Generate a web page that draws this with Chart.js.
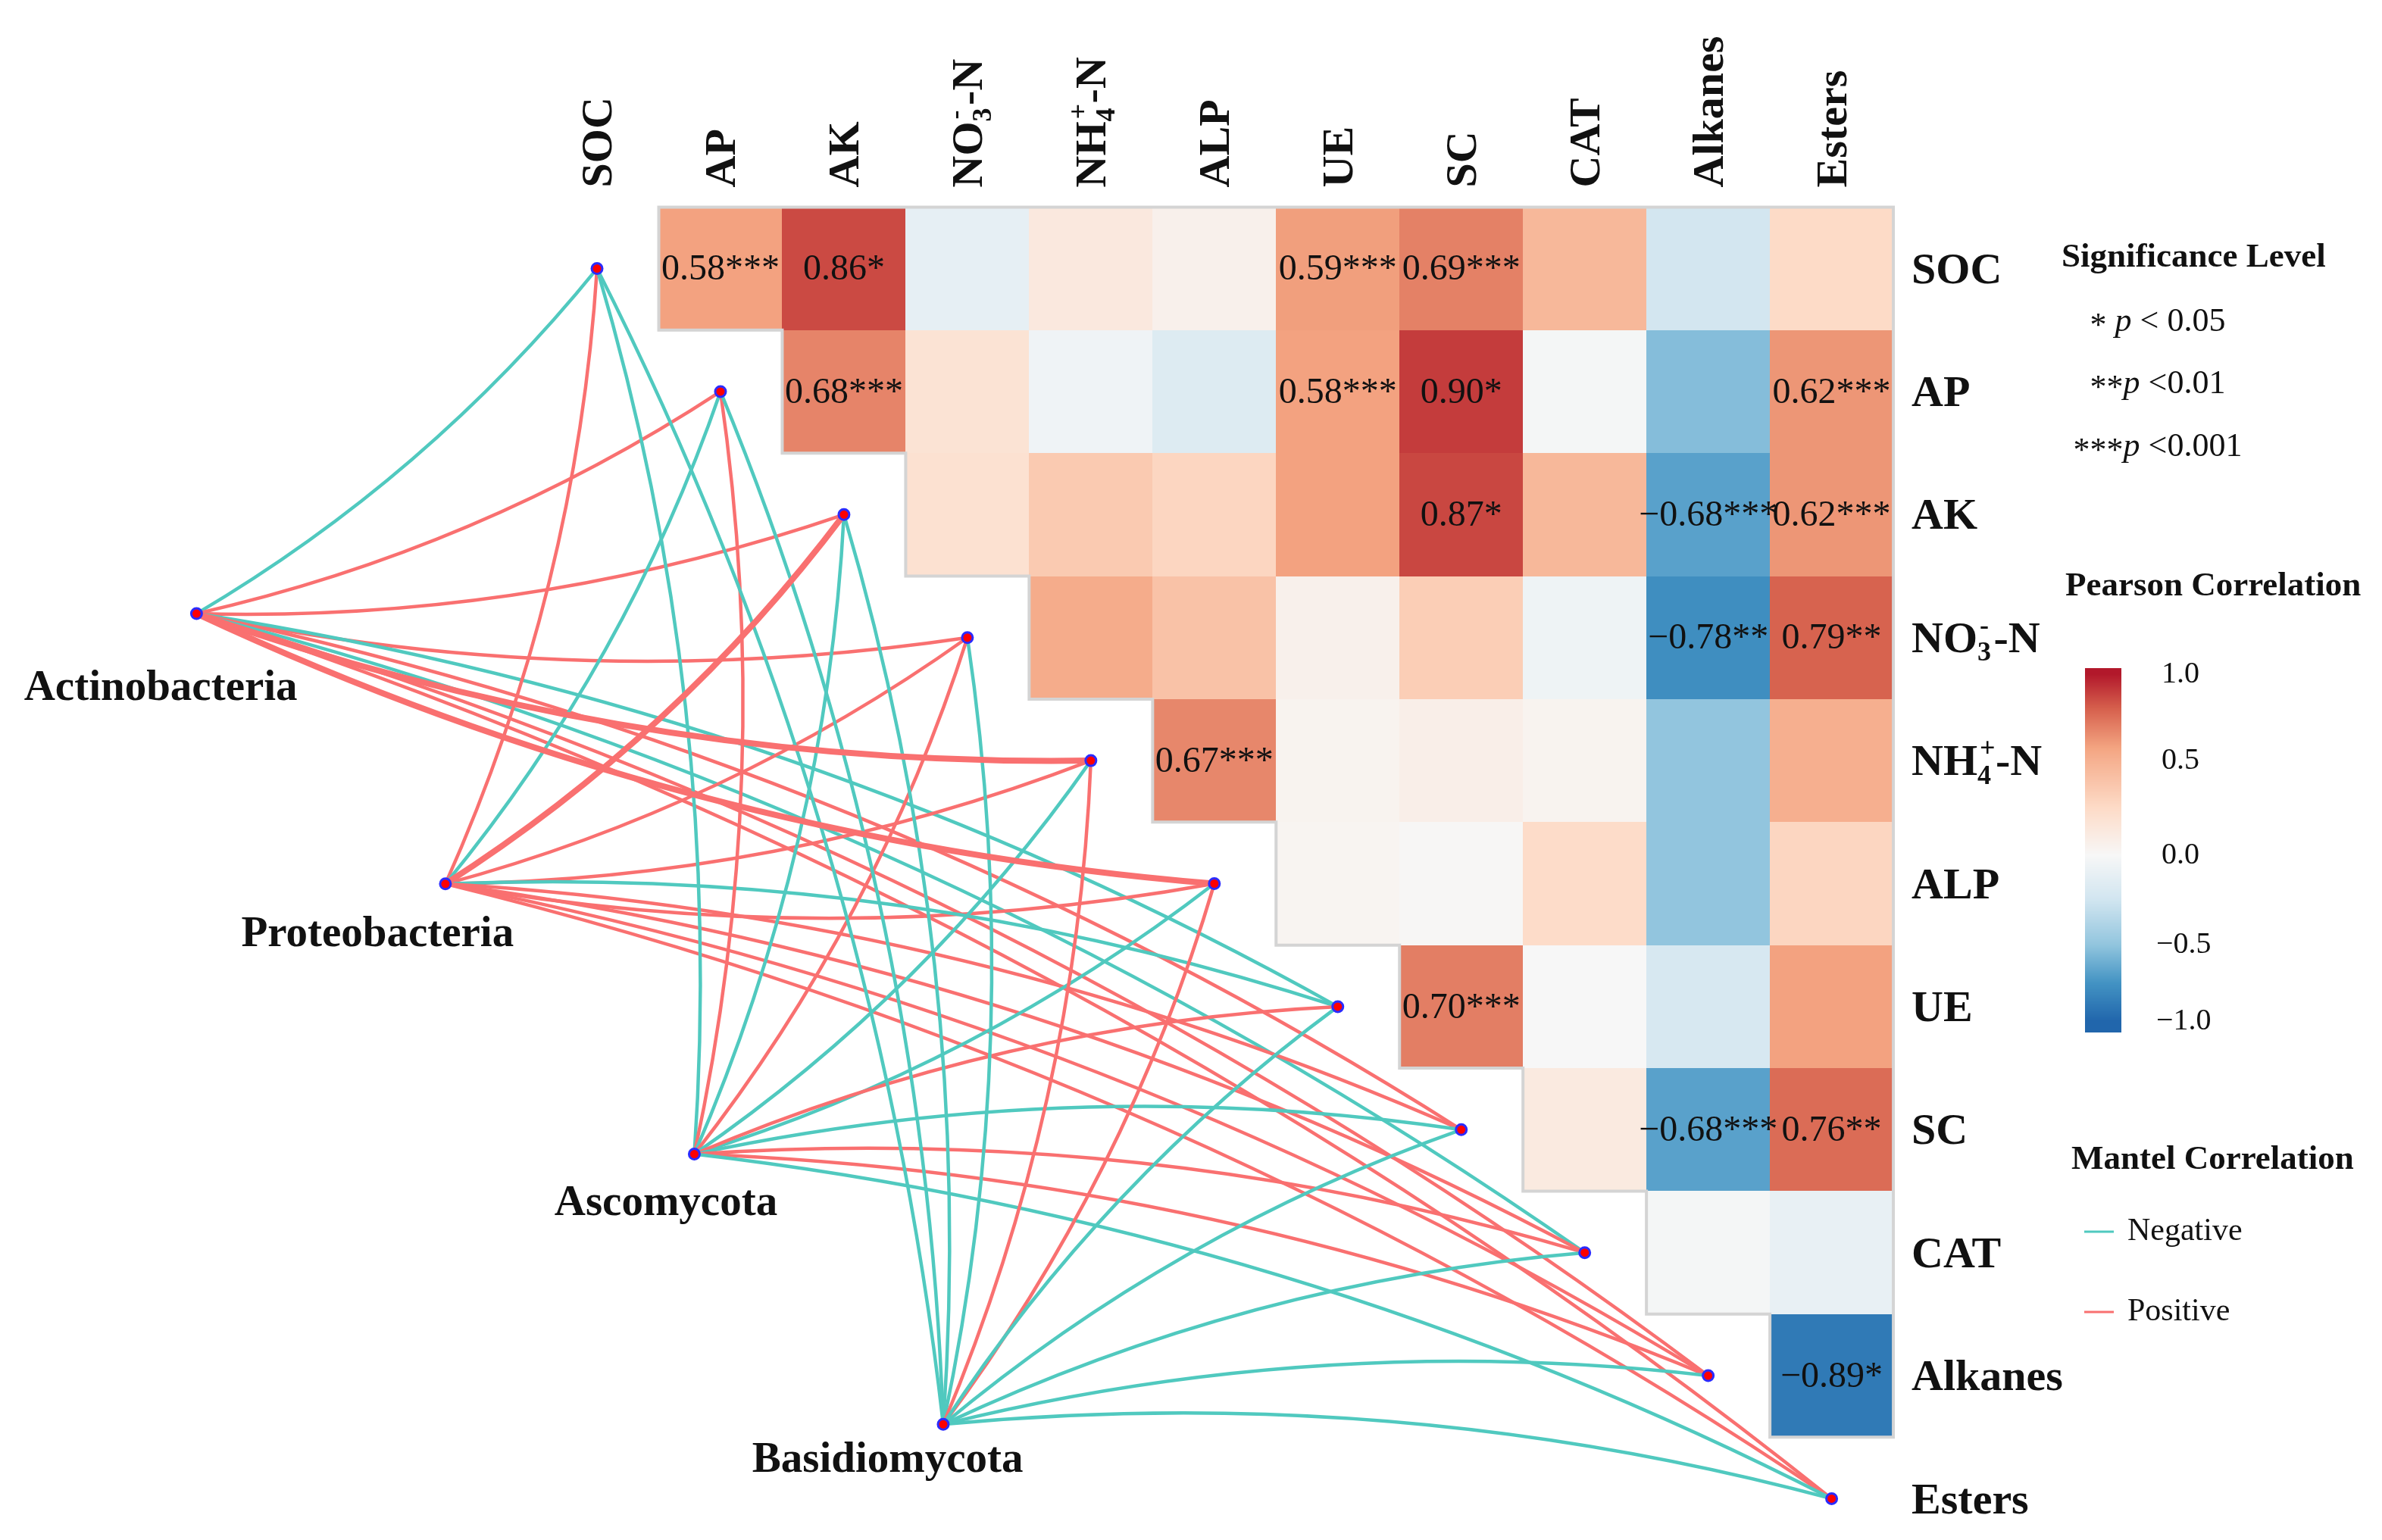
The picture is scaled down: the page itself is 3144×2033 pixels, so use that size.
<!DOCTYPE html>
<html><head><meta charset="utf-8">
<script src="https://cdn.jsdelivr.net/npm/chart.js@4.4.1/dist/chart.umd.min.js"></script>
<style>html,body{margin:0;padding:0;background:#fff;overflow:hidden}canvas{display:block}</style>
</head><body><canvas id="c" width="3144" height="2033"></canvas>
<script>
// ---------------- DATA ----------------
const variables = ['SOC','AP','AK','NO3-N','NH4-N','ALP','UE','SC','CAT','Alkanes','Esters'];
const taxa = ['Actinobacteria','Proteobacteria','Ascomycota','Basidiomycota'];

// Pearson r (upper triangle): each row lists the columns to the right of the diagonal
const r_SOC     = [0.58, 0.86, -0.11, 0.13, 0.06, 0.59, 0.69, 0.46, -0.24, 0.25];
const r_AP      = [0.68, 0.18, -0.05, -0.17, 0.58, 0.90, -0.02, -0.54, 0.62];
const r_AK      = [0.20, 0.35, 0.28, 0.58, 0.87, 0.46, -0.68, 0.62];
const r_NO3     = [0.53, 0.40, 0.06, 0.33, -0.06, -0.78, 0.79];
const r_NH4     = [0.67, 0.04, 0.08, 0.04, -0.50, 0.51];
const r_ALP     = [0.03, 0.01, 0.24, -0.50, 0.28];
const r_UE      = [0.70, 0.00, -0.21, 0.58];
const r_SC      = [0.12, -0.68, 0.76];
const r_CAT     = [-0.02, -0.10];
const r_Alkanes = [-0.89];

// significance stars (same layout)
const p_SOC     = ['***','*','','','','***','***','','',''];
const p_AP      = ['***','','','','***','*','','','***'];
const p_AK      = ['','','','','*','','***','***'];
const p_NO3     = ['','','','','','**','**'];
const p_NH4     = ['***','','','','',''];
const p_ALP     = ['','','','',''];
const p_UE      = ['***','','',''];
const p_SC      = ['','***','**'];
const p_CAT     = ['',''];
const p_Alkanes = ['*'];

// Mantel links: sign (+1 positive, -1 negative) to each variable
const mantel_Actinobacteria = [-1, 1, 1, 1, 1, 1,-1, 1,-1, 1, 1];
const mantel_Proteobacteria = [ 1,-1, 1, 1, 1, 1,-1, 1, 1, 1, 1];
const mantel_Ascomycota     = [-1, 1,-1, 1,-1,-1, 1,-1, 1, 1,-1];
const mantel_Basidiomycota  = [-1,-1,-1,-1, 1, 1,-1,-1,-1,-1,-1];
// Mantel link strength class (1 = normal, 2 = strong)
const size_Actinobacteria = [1,1,1,1,2,2,1,1,1,1,1];
const size_Proteobacteria = [1,1,2,1,1,1,1,1,1,1,1];
const size_Ascomycota     = [1,1,1,1,1,1,1,1,1,1,1];
const size_Basidiomycota  = [1,1,1,1,1,1,1,1,1,1,1];

const colorbarTicks = [1.0, 0.5, 0.0, -0.5, -1.0];
const sigLevels = ['*','**','***'];
const sigThresholds = ['0.05','0.01','0.001'];
const mantelLegend = ['Negative','Positive'];

// ---------------- BUILD ----------------
const rRows = [r_SOC,r_AP,r_AK,r_NO3,r_NH4,r_ALP,r_UE,r_SC,r_CAT,r_Alkanes];
const pRows = [p_SOC,p_AP,p_AK,p_NO3,p_NH4,p_ALP,p_UE,p_SC,p_CAT,p_Alkanes];
const mantelRows = [mantel_Actinobacteria,mantel_Proteobacteria,mantel_Ascomycota,mantel_Basidiomycota];
const sizeRows = [size_Actinobacteria,size_Proteobacteria,size_Ascomycota,size_Basidiomycota];

const W = 3144, H = 2033, CELL = 164, OX = 783, OY = 348;
const TEAL = '#50c9bf', RED = '#f97070';
const SERIF = '"Liberation Serif","Times New Roman",serif';

// taxon node layout (linkET style: evenly spaced along a line)
const taxStart = {x:-3.244, y:2.805}, taxStep = {x:2.016, y:2.197};
const taxPos = taxa.map((t,i)=>({x: taxStart.x + i*taxStep.x, y: taxStart.y + i*taxStep.y}));
const taxLabelOffset = [{dx:-0.29,dy:0.58},{dx:-0.55,dy:0.38},{dx:-0.23,dy:0.37},{dx:-0.45,dy:0.26}];

// RdBu palette stops (value position, colour)
const palPos = [-1, -0.75, -0.5, -0.25, 0, 0.25, 0.57, 0.80, 1.0];
const palCol = ['#2166AC','#4393C3','#92C5DE','#D1E5F0','#F7F7F7','#FDDBC7','#F4A582','#D6604D','#B2182B'];
function hex(h){return [parseInt(h.slice(1,3),16),parseInt(h.slice(3,5),16),parseInt(h.slice(5,7),16)];}
function rdbu(v){
  v = Math.max(-1, Math.min(1, v));
  let i = 0; while(i < palPos.length-2 && v > palPos[i+1]) i++;
  const f = (v-palPos[i])/(palPos[i+1]-palPos[i]);
  const a = hex(palCol[i]), b = hex(palCol[i+1]);
  const c = a.map((x,k)=>Math.round(x+(b[k]-x)*f));
  return `rgb(${c[0]},${c[1]},${c[2]})`;
}

const labelFmt = {
  'NO3-N': {pre:'NO', sub:'3', sup:'-', post:'-N'},
  'NH4-N': {pre:'NH', sub:'4', sup:'+', post:'-N'}
};
function richText(ctx, name, x, y, size, align){
  const f = labelFmt[name];
  const big = `bold ${size}px ${SERIF}`, small = `bold ${Math.round(size*0.62)}px ${SERIF}`;
  if(!f){ ctx.font = big; ctx.textAlign = align; ctx.fillText(name, x, y); return; }
  ctx.font = big; const w1 = ctx.measureText(f.pre).width, w3 = ctx.measureText(f.post).width;
  ctx.font = small; const ws = ctx.measureText(f.sub).width, wp = ctx.measureText(f.sup).width;
  const w2 = Math.max(ws, wp) + size*0.06;
  const tot = w1+w2+w3;
  const x0 = align==='center' ? x - tot/2 : x;
  ctx.textAlign = 'left';
  ctx.font = big; ctx.fillText(f.pre, x0, y);
  ctx.font = small; ctx.fillText(f.sub, x0+w1, y + size*0.2);
  ctx.fillText(f.sup, x0+w1+size*0.05, y - size*0.42);
  ctx.font = big; ctx.fillText(f.post, x0+w1+w2, y);
}

const nodeData = variables.map((v,i)=>({x:i, y:i})).concat(taxPos.map(p=>({x:p.x, y:p.y})));

const heatPlugin = {
  id:'heat',
  beforeDatasetsDraw(chart){
    const {ctx, scales:{x, y}} = chart;
    const px = v=>x.getPixelForValue(v), py = v=>y.getPixelForValue(v);
    ctx.save();
    rRows.forEach((vals, j)=>{
      vals.forEach((v, k)=>{
        const i = j+1+k;
        const x0 = Math.round(px(i-0.5)), x1 = Math.round(px(i+0.5));
        const y0 = Math.round(py(j-0.5)), y1 = Math.round(py(j+0.5));
        ctx.fillStyle = rdbu(v);
        ctx.fillRect(x0, y0, x1-x0+0.5, y1-y0+0.5);
      });
    });
    const n = variables.length;
    ctx.beginPath();
    ctx.moveTo(px(0.5), py(-0.5));
    ctx.lineTo(px(n-0.5), py(-0.5));
    ctx.lineTo(px(n-0.5), py(n-1.5));
    for(let k=n-1; k>=1; k--){
      ctx.lineTo(px(k-0.5), py(k-0.5));
      ctx.lineTo(px(k-0.5), py(k-1.5));
    }
    ctx.closePath();
    ctx.strokeStyle = '#d4d4d4'; ctx.lineWidth = 4; ctx.stroke();
    ctx.lineCap = 'round';
    const drawLinks = (cls)=>{
      taxa.forEach((t, ti)=>{
        variables.forEach((v, vi)=>{
          if(sizeRows[ti][vi] !== cls) return;
          const x1 = px(taxPos[ti].x), y1 = py(taxPos[ti].y);
          const x2 = px(vi), y2 = py(vi);
          const dx = x2-x1, dy = y2-y1;
          const side = vi < 6 ? 1 : -1, c = 0.09;
          const cx = (x1+x2)/2 + side*c*(-dy), cy = (y1+y2)/2 + side*c*dx;
          ctx.beginPath(); ctx.moveTo(x1, y1); ctx.quadraticCurveTo(cx, cy, x2, y2);
          ctx.strokeStyle = mantelRows[ti][vi] > 0 ? RED : TEAL;
          ctx.lineWidth = cls === 2 ? 8 : 4.5;
          ctx.stroke();
        });
      });
    };
    drawLinks(1); drawLinks(2);
    ctx.restore();
  },
  afterDatasetsDraw(chart){
    const {ctx, scales:{x, y}} = chart;
    const px = v=>x.getPixelForValue(v), py = v=>y.getPixelForValue(v);
    ctx.save();
    ctx.fillStyle = '#111';
    ctx.font = `48px ${SERIF}`; ctx.textAlign = 'center'; ctx.textBaseline = 'middle';
    rRows.forEach((vals, j)=>{
      vals.forEach((v, k)=>{
        const s = pRows[j][k]; if(!s) return;
        const i = j+1+k;
        const txt = (v<0?'\u2212':'') + Math.abs(v).toFixed(2) + s;
        ctx.fillText(txt, px(i), py(j)+2);
      });
    });
    ctx.textBaseline = 'alphabetic';
    const LS = 58;
    const rowX = px(variables.length-0.5) + 24;
    variables.forEach((v, j)=>{ richText(ctx, v, rowX, py(j) + LS*0.33, LS, 'left'); });
    const colBase = py(-0.5) - 26;
    variables.forEach((v, i)=>{
      ctx.save();
      ctx.translate(px(i), colBase);
      ctx.rotate(-Math.PI/2);
      richText(ctx, v, 0, LS*0.33, LS, 'left');
      ctx.restore();
    });
    taxa.forEach((t, i)=>{
      ctx.font = `bold 57px ${SERIF}`; ctx.textAlign = 'center';
      ctx.fillText(t, px(taxPos[i].x + taxLabelOffset[i].dx), py(taxPos[i].y + taxLabelOffset[i].dy) + 20);
    });
    // ---- legends ----
    ctx.textAlign = 'left';
    ctx.font = `bold 45px ${SERIF}`;
    ctx.fillText('Significance Level', 2721, 352);
    const sigY = [437, 519, 602];
    sigLevels.forEach((s, k)=>{
      ctx.font = `44px ${SERIF}`;
      const a = s + (k===0?' ':''), b = 'p', c = ' <' + (k===0?' ':'') + sigThresholds[k];
      const wa = ctx.measureText(a).width, wc = ctx.measureText(c).width;
      ctx.font = `italic 44px ${SERIF}`; const wb = ctx.measureText(b).width;
      const x0 = 2848 - (wa+wb+wc)/2;
      ctx.font = `44px ${SERIF}`; ctx.fillText(a, x0, sigY[k]+6);
      ctx.font = `italic 44px ${SERIF}`; ctx.fillText(b, x0+wa, sigY[k]);
      ctx.font = `44px ${SERIF}`; ctx.fillText(c, x0+wa+wb, sigY[k]);
    });
    ctx.font = `bold 45px ${SERIF}`;
    ctx.fillText('Pearson Correlation', 2726, 786);
    // colorbar (value -> position through tick positions)
    const cbTop = 882, cbBot = 1363, cbX = 2752, cbW = 48;
    const tickY = [890, 1004, 1129, 1247, 1348];
    const posToVal = (yy)=>{
      if(yy <= tickY[0]) return 1;
      if(yy >= tickY[4]) return -1;
      let k = 0; while(yy > tickY[k+1]) k++;
      const f = (yy - tickY[k])/(tickY[k+1]-tickY[k]);
      return colorbarTicks[k] + (colorbarTicks[k+1]-colorbarTicks[k])*f;
    };
    for(let yy = cbTop; yy < cbBot; yy++){
      ctx.fillStyle = rdbu(posToVal(yy+0.5));
      ctx.fillRect(cbX, yy, cbW, 1);
    }
    ctx.fillStyle = '#111';
    ctx.font = `40px ${SERIF}`; ctx.textBaseline = 'middle';
    colorbarTicks.forEach((v, k)=>{
      const txt = (v<0?'\u2212':'') + Math.abs(v).toFixed(1);
      ctx.fillText(txt, v<0 ? 2846 : 2853, tickY[k]);
    });
    ctx.textBaseline = 'alphabetic';
    ctx.font = `bold 45px ${SERIF}`;
    ctx.fillText('Mantel Correlation', 2734, 1543);
    const legY = [1626, 1732];
    mantelLegend.forEach((lab, k)=>{
      ctx.strokeStyle = k===0 ? TEAL : RED; ctx.lineWidth = 3;
      ctx.beginPath(); ctx.moveTo(2751, legY[k]); ctx.lineTo(2790, legY[k]); ctx.stroke();
      ctx.font = `42px ${SERIF}`; ctx.textBaseline = 'middle';
      ctx.fillText(lab, 2808, legY[k]);
    });
    ctx.restore();
  }
};

Chart.register(heatPlugin);
new Chart(document.getElementById('c'), {
  type: 'scatter',
  data: { datasets: [{
    data: nodeData,
    pointRadius: 7, pointHoverRadius: 7,
    pointBackgroundColor: '#ff0000', pointBorderColor: '#2b2bff', pointBorderWidth: 3
  }]},
  options: {
    responsive: false, animation: false, devicePixelRatio: 1,
    layout: { padding: 0 },
    plugins: { legend: {display:false}, tooltip: {enabled:false} },
    scales: {
      x: { type:'linear', display:false, min: -OX/CELL, max: (W-OX)/CELL },
      y: { type:'linear', display:false, reverse:true, min: -OY/CELL, max: (H-OY)/CELL }
    }
  }
});
</script>
</body></html>
